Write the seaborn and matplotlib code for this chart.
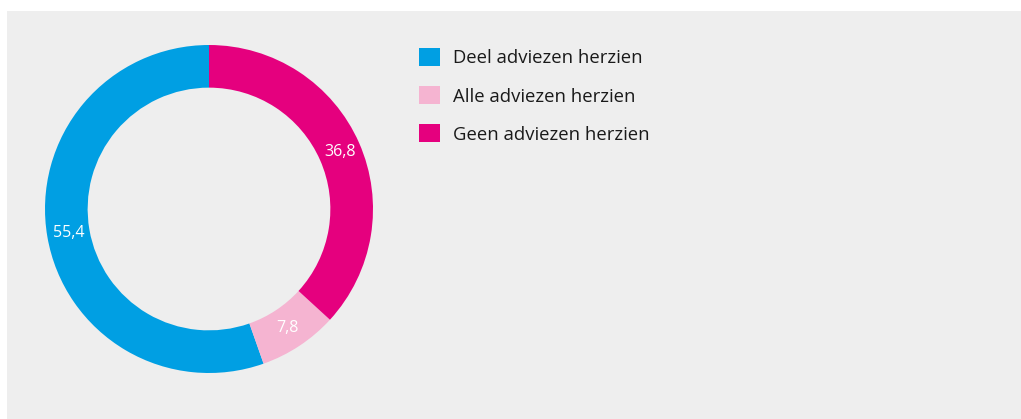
import matplotlib
matplotlib.use("Agg")
import matplotlib.pyplot as plt
from matplotlib.patches import Rectangle, Patch
import numpy as np
import seaborn as sns

categories = ["Deel adviezen herzien", "Alle adviezen herzien", "Geen adviezen herzien"]
values = [55.4, 7.8, 36.8]
value_labels = ["55,4", "7,8", "36,8"]
colors = ["#009fe3", "#f5b4d1", "#e5007e"]

sns.set_theme(style="white")
plt.rcParams["font.family"] = ["Open Sans", "DejaVu Sans"]

W, H = 1021, 419
fig = plt.figure(figsize=(W / 100, H / 100), dpi=100, facecolor="white")

# grey panel behind the chart
fig.patches.append(Rectangle((7 / W, 0), 1 - 7 / W, (H - 11) / H,
                             transform=fig.transFigure, facecolor="#eeeeee",
                             edgecolor="none", zorder=-10))

cx, cy, r = 209, 209, 164
ax = fig.add_axes([(cx - r) / W, (H - cy - r) / H, 2 * r / W, 2 * r / H])
ax.set_zorder(1)
ax.set_facecolor("none")
ring = 0.26
wedges, _ = ax.pie(values, colors=colors, startangle=90, counterclock=True,
                   radius=1.0, wedgeprops=dict(width=ring, edgecolor="none"))
for w, lab in zip(wedges, value_labels):
    ang = np.deg2rad((w.theta1 + w.theta2) / 2)
    rr = 1 - ring / 2
    ax.text(rr * np.cos(ang), rr * np.sin(ang), lab, ha="center", va="center",
            color="white", fontsize=11.5)
ax.set_xlim(-1, 1)
ax.set_ylim(-1, 1)
ax.set_aspect("equal")
ax.axis("off")

handles = [Patch(facecolor=c, edgecolor="none") for c in colors]
leg = fig.legend(handles, categories, loc="upper left",
                 bbox_to_anchor=(410 / W, (H - 39) / H), frameon=False,
                 fontsize=13.3, handlelength=1.12, handleheight=1.12,
                 handletextpad=0.72, labelspacing=1.02, borderpad=0,
                 labelcolor="#1a1a1a")
leg.set_zorder(2)

fig.savefig("out.png", dpi=100, facecolor="white")
